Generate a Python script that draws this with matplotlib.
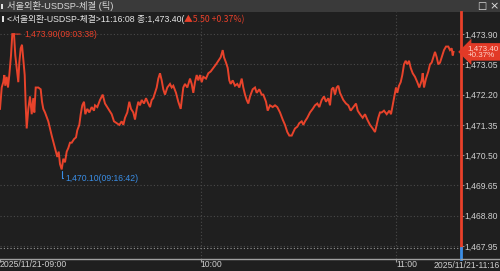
import matplotlib
matplotlib.use('Agg')
import matplotlib.pyplot as plt
from matplotlib.lines import Line2D
from matplotlib.patches import Rectangle
import matplotlib.transforms as mtransforms
from matplotlib.ticker import FixedLocator, FuncFormatter

# ---------------- data ----------------
title = "서울외환-USDSP-체결 (틱)"
header_main = "<서울외환-USDSP-체결>11:16:08 종:1,473.40("
header_change = "▲5.50 +0.37%)"
last_price = 1473.40
prev_close = 1467.90
change_pct = "+0.37%"
max_label = "1,473.90(09:03:38)"
min_label = "1,470.10(09:16:42)"
hour_tick_pos = [0, 200.5, 396]
hour_tick_labels = ["2025/11/21-09:00", "10:00", "11:00"]
end_label = "2025/11/21-11:16"
y_ticks = [1467.95, 1468.80, 1469.65, 1470.50, 1471.35, 1472.20, 1473.05, 1473.90]

# tick sequence position (x) and traded price
tick_no = [
    0, 1.7, 3.3, 4.3, 5.3, 6.7, 8, 9.3, 11, 12.3,
    14, 15.3, 16.7, 18.3, 19.3, 20.7, 22, 23.3, 24.7, 25.7,
    26.7, 28.3, 30, 31.7, 33.3, 34.3, 35.7, 38.3, 40.7, 42,
    43.3, 45, 48.3, 51.7, 55, 57.3, 58.7, 60, 61.7, 63.3,
    65, 66.7, 68.3, 70, 71.7, 74, 76, 77.3, 79.3, 80.7,
    82.3, 84, 85.3, 87.3, 89.3, 91.7, 94,
    95, 97.3, 100, 102.7, 105, 108.3, 111.7, 114, 116.7, 119.3,
    121.7, 123.3, 125, 127.3, 129.3, 131, 133.3, 135, 136.7, 138.3,
    140, 141.7, 144, 146, 148.3, 150, 151.7, 153.3, 155, 156.7,
    158.3, 160, 161.7, 163.3, 165, 167.3, 170, 171.7, 173.3, 176,
    178.3, 180.7,
    183.3, 185, 187.3, 190, 191.7, 193.3, 195, 196.7, 198.3, 200,
    201.7, 203.3, 206, 208.3, 210.7, 213.3, 216, 218.3, 220.7, 222.7,
    224, 226, 227.7, 229.3, 230.7, 232.7, 235, 237.3, 239.3, 241.7,
    243.3, 245, 246.7, 248.3, 250, 252.7, 255, 256.7, 259.3, 261.7,
    263.3, 266, 267.7, 270,
    272.7, 275, 277.3, 280, 282.7, 285, 287.3, 289.3, 291.7, 293.3,
    295, 297.3, 299.3, 301.7, 303.3, 305, 307.3, 310, 312.7, 315,
    317.3, 319.3, 321.7, 324, 326, 328.3, 330, 331.7, 333.3, 335,
    336.7, 338.3, 340, 341.7, 343.3, 346, 348.3, 350.7, 353.3, 356,
    357.7, 360,
    362.7, 365, 367.3, 370, 372.7, 375, 376.7, 378.3, 380, 381.7,
    384, 386.7, 389.3, 391, 392.7, 394.3, 396, 397.3, 399, 400.7,
    402.3, 404, 405.7, 407.3, 409, 410.7, 412.7, 415, 417.3, 419.3,
    421.7, 422.7, 424, 426, 428.3, 430, 431.7, 433.3, 435, 436.7,
    438.3, 440, 441.7, 444, 446, 448.3, 450, 451.7, 452.7, 453.5,
]
price = [
    1471.80, 1472.40, 1472.55, 1472.75, 1472.45, 1472.70, 1472.40, 1472.75, 1473.30, 1473.90,
    1473.90, 1473.30, 1472.95, 1472.55, 1473.10, 1473.50, 1473.60, 1473.20, 1472.75, 1471.90,
    1471.25, 1471.80, 1472.15, 1471.65, 1472.10, 1471.70, 1472.40, 1472.40, 1472.35, 1472.00,
    1471.80, 1471.70, 1471.45, 1471.05, 1470.70, 1470.45, 1470.60, 1470.25, 1470.10, 1470.40,
    1470.30, 1470.60, 1470.70, 1470.85, 1470.85, 1470.95, 1471.00, 1471.20, 1471.35, 1471.65,
    1471.90, 1472.00, 1471.65, 1471.80, 1471.70, 1471.85, 1471.75,
    1471.90, 1471.85, 1472.05, 1472.20, 1471.95, 1471.80, 1471.65, 1471.45, 1471.40, 1471.35,
    1471.45, 1471.35, 1471.55, 1471.70, 1472.00, 1471.80, 1471.70, 1471.50, 1471.80, 1472.00,
    1471.90, 1472.05, 1471.95, 1472.10, 1471.95, 1471.85, 1472.05, 1472.10, 1472.25, 1472.40,
    1472.65, 1472.80, 1472.60, 1472.35, 1472.20, 1472.40, 1472.50, 1472.40, 1472.45, 1472.25,
    1472.00, 1471.80,
    1472.40, 1472.50, 1472.40, 1472.65, 1472.50, 1472.25, 1472.55, 1472.75, 1472.60, 1472.75,
    1472.55, 1472.70, 1472.65, 1472.80, 1472.85, 1472.95, 1473.05, 1473.15, 1473.25, 1473.45,
    1473.25, 1473.10, 1472.95, 1472.60, 1472.50, 1472.60, 1472.45, 1472.50, 1472.40, 1472.65,
    1472.40, 1472.20, 1472.05, 1471.95, 1472.15, 1472.35, 1472.40, 1472.25, 1472.35, 1472.20,
    1472.20, 1472.00, 1471.75, 1471.90,
    1471.85, 1471.90, 1471.85, 1471.70, 1471.50, 1471.35, 1471.15, 1471.05, 1471.05, 1471.15,
    1471.25, 1471.30, 1471.40, 1471.45, 1471.35, 1471.45, 1471.55, 1471.70, 1471.80, 1471.90,
    1471.95, 1471.85, 1472.05, 1472.15, 1472.00, 1472.10, 1471.90, 1472.35, 1472.40, 1472.20,
    1472.40, 1472.45, 1472.25, 1472.15, 1472.05, 1471.95, 1471.90, 1471.75, 1471.85, 1471.95,
    1471.75, 1471.65,
    1471.55, 1471.65, 1471.50, 1471.35, 1471.25, 1471.15, 1471.35, 1471.55, 1471.70, 1471.70,
    1471.75, 1471.65, 1471.75, 1471.65, 1471.90, 1472.15, 1472.40, 1472.25, 1472.45, 1472.55,
    1472.75, 1473.05, 1473.15, 1473.05, 1473.15, 1472.95, 1472.80, 1472.70, 1472.55, 1472.40,
    1472.60, 1472.80, 1472.40, 1472.65, 1472.85, 1473.05, 1473.10, 1473.25, 1473.40, 1473.25,
    1473.05, 1473.10, 1473.25, 1473.45, 1473.55, 1473.55, 1473.45, 1473.50, 1473.30, 1473.40,
]

# ---------------- style ----------------
BG = '#1f1f1f'
BAR = '#3a3a3a'
TXT = '#cfcfcf'
LINE = '#e8432b'
UP = '#e8402a'
DOWN = '#3a8ee6'
GRID = '#4a4a4a'
NUM_FONT = ['Liberation Sans', 'DejaVu Sans']
KR_FONT = ['Liberation Sans', 'Noto Sans CJK KR', 'DejaVu Sans']
NUM_SIZE = 6.2

W, H = 500, 271
fig = plt.figure(figsize=(W / 100, H / 100), dpi=100, facecolor=BG)

def fx(px):
    return px / W

def fy(py):
    return 1 - py / H

ax_top, ax_bot, ax_right = 12, 259, 460.5
ax = fig.add_axes([0, fy(ax_bot), fx(ax_right), (ax_bot - ax_top) / H])
ax.set_facecolor(BG)

ax.plot(tick_no, price, color=LINE, lw=1.4, solid_joinstyle='miter', zorder=3)

ax.set_xlim(0, ax_right)
ax.set_ylim(1467.585, 1474.52)

# grid
for yv in y_ticks:
    ax.axhline(yv, color=GRID, lw=0.8, ls=(0, (1, 2)), zorder=1)
for xv in hour_tick_pos[1:]:
    ax.axvline(xv, color=GRID, lw=0.8, ls=(0, (1, 2)), zorder=1)
ax.axhline(prev_close, color='#9a9a9a', lw=0.8, ls=(0, (1, 2)), zorder=2)

# spines
for s in ['top', 'left', 'right']:
    ax.spines[s].set_visible(False)
ax.spines['bottom'].set_color('#a0a0a0')
ax.spines['bottom'].set_linewidth(1.0)
fig.add_artist(Line2D([fx(ax_right), 1], [fy(ax_bot), fy(ax_bot)], color='#a0a0a0', lw=1.0))

# right axis line red above previous close, blue below
trans = mtransforms.blended_transform_factory(ax.transAxes, ax.transData)
ax.plot([1, 1], [prev_close, 1474.52], transform=trans, color=UP, lw=2, clip_on=False, zorder=5)
ax.plot([1, 1], [1467.585, prev_close], transform=trans, color=DOWN, lw=2, clip_on=False, zorder=5)

# y ticks on right
ax.yaxis.tick_right()
ax.yaxis.set_major_locator(FixedLocator(y_ticks))
ax.yaxis.set_major_formatter(FuncFormatter(lambda v, p: f"{v:,.2f}"))
ax.tick_params(axis='y', which='major', length=2, width=0.8, color='#8a8a8a', pad=0.5,
               labelsize=NUM_SIZE, labelcolor=TXT)
for lbl in ax.get_yticklabels():
    lbl.set_family(NUM_FONT)

# x ticks
ax.xaxis.set_major_locator(FixedLocator(hour_tick_pos))
ax.set_xticklabels(hour_tick_labels)
ax.tick_params(axis='x', which='major', length=2, width=0.8, color='#a0a0a0', pad=-1.0,
               labelsize=NUM_SIZE, labelcolor=TXT)
for lbl in ax.get_xticklabels():
    lbl.set_family(NUM_FONT)
    lbl.set_ha('left')
fig.text(fx(499.5), fy(265.5), end_label, ha='right', va='center', fontsize=NUM_SIZE,
         color=TXT, family=NUM_FONT)

# max / min annotations
i_max = max(range(len(price)), key=lambda i: price[i])
i_min = min(range(len(price)), key=lambda i: price[i])
ax.annotate(max_label, xy=(tick_no[i_max], price[i_max]), xytext=(12, 0), textcoords='offset pixels',
            ha='left', va='center', fontsize=NUM_SIZE, color=UP, family=NUM_FONT, annotation_clip=False,
            arrowprops=dict(arrowstyle='-', color=UP, lw=0.8, shrinkA=1, shrinkB=1,
                            relpos=(0, 0.5)), zorder=6)
ax.annotate(min_label, xy=(tick_no[i_min], price[i_min]), xytext=(4, -9), textcoords='offset pixels',
            ha='left', va='center', fontsize=NUM_SIZE, color=DOWN, family=NUM_FONT, annotation_clip=False,
            arrowprops=dict(arrowstyle='-', color=DOWN, lw=0.8, shrinkA=0, shrinkB=1,
                            relpos=(0, 0.5),
                            connectionstyle='angle,angleA=0,angleB=90,rad=0'), zorder=6)

# current price tag
ax.annotate(f"{last_price:,.2f}\n{change_pct}", xy=(1, last_price), xycoords=trans,
            xytext=(7, 0), textcoords='offset pixels', ha='left', va='center',
            fontsize=5.8, color='#ffd2c8', family=NUM_FONT, linespacing=1.0,
            annotation_clip=False, zorder=7,
            bbox=dict(boxstyle='larrow,pad=0.22', fc='#e23a27', ec='none'))

# ---------------- header ----------------
fig.add_artist(Rectangle((0, fy(ax_top)), 1, 1 - fy(ax_top), transform=fig.transFigure,
                         fc=BAR, ec='none', zorder=0))
fig.add_artist(Rectangle((fx(1), fy(9)), fx(2), 5 / H, transform=fig.transFigure,
                         fc='#e0e0e0', ec='none'))
fig.text(fx(7), fy(6), title, ha='left', va='center', fontsize=6.7, color='#d8d8d8', family=KR_FONT)
fig.text(fx(482), fy(6), "□", ha='center', va='center', fontsize=7, color='#e0e0e0', family=['DejaVu Sans'])
fig.text(fx(494), fy(6), "×", ha='center', va='center', fontsize=8, color='#e0e0e0', family=['DejaVu Sans'])

fig.add_artist(Rectangle((fx(1.5), fy(22)), fx(2), 6 / H, transform=fig.transFigure,
                         fc='#e0e0e0', ec='none', zorder=5))
t1 = fig.text(fx(7), fy(19.5), header_main, ha='left', va='center', fontsize=6.3,
              color='#e6e6e6', family=KR_FONT, zorder=6)
ax.annotate(header_change, xy=(1, 0.5), xycoords=t1, ha='left', va='center', fontsize=6.3,
            color=UP, family=['Noto Sans CJK KR', 'DejaVu Sans'], annotation_clip=False, zorder=6)

fig.savefig('out.png', dpi=100, facecolor=BG)
